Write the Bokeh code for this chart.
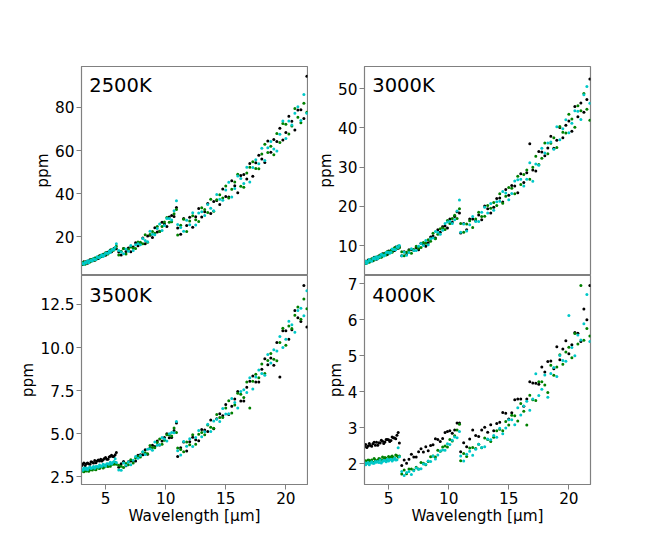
from bokeh.plotting import figure
from bokeh.models import Range1d, FixedTicker, Label, PrintfTickFormatter
from bokeh.layouts import column, row
from bokeh.embed import file_html
from bokeh.resources import INLINE

# ---------------- data ----------------
wl_a = [3.0, 3.1, 3.2, 3.3, 3.4, 3.5, 3.6, 3.7, 3.8, 3.9, 4.0, 4.1, 4.2, 4.3, 4.4,
        4.5, 4.6, 4.7, 4.8, 4.9, 5.0, 5.1, 5.2, 5.3, 5.4, 5.5, 5.6, 5.7, 5.8, 5.9]
wl_b = [6.1, 6.3, 6.5, 6.7, 6.9, 7.1, 7.3, 7.5, 7.7, 7.9, 8.1, 8.3, 8.5, 8.7, 8.9,
        9.1, 9.3, 9.5, 9.7, 9.9, 10.1, 10.3, 10.5, 10.7, 10.9]
wl_c = [11.0, 11.25, 11.5, 11.75, 12.0, 12.25, 12.5, 12.75, 13.0, 13.25, 13.5, 13.75,
        14.0, 14.25, 14.5, 14.75, 15.0, 15.25, 15.5, 15.75, 16.0, 16.25, 16.5, 16.75,
        17.0, 17.25, 17.5, 17.75, 18.0, 18.25, 18.5, 18.75, 19.0, 19.25, 19.5, 19.75,
        20.0, 20.25, 20.5, 20.75, 21.0, 21.25, 21.5, 21.75]
wavelength = wl_a + wl_b + wl_c

panel_names = ["2500K", "3000K", "3500K", "4000K"]

black_2500 = ([7.7, 7.2, 8.5, 7.9, 8.6, 7.8, 8.7, 9.4, 8.8, 9.2, 9.9, 9.2, 10.2, 10.3, 10.0, 11.3, 10.8, 10.9, 12.0, 11.8, 11.5, 12.7, 12.9, 12.8, 13.9, 13.2, 14.1, 14.7, 14.6, 14.5]
              + [13.0, 11.6, 14.7, 13.3, 14.9, 13.1, 15.4, 17.3, 15.9, 17.2, 19.5, 16.8, 20.5, 20.8, 19.7, 24.3, 22.3, 22.7, 26.8, 26.0, 24.8, 29.2, 29.9, 29.5, 33.6]
              + [24.1, 21.2, 28.5, 25.3, 29.1, 24.5, 29.4, 33.2, 29.3, 31.7, 35.5, 30.9, 36.4, 36.9, 35.1, 42.2, 38.7, 38.5, 46.1, 43.7, 40.5, 48.5, 48.9, 46.9, 54.1, 48.1, 54.4, 57.9, 56.1, 54.5, 64.5, 59.3, 65.2, 64.2, 70.4, 64.9, 68.4, 75.9, 73.6, 69.6, 78.8, 79.0, 74.9, 94.5])
green_2500 = ([7.1, 7.9, 8.4, 7.4, 8.3, 8.7, 8.4, 8.4, 9.5, 9.4, 9.2, 10.3, 9.4, 10.4, 10.8, 10.6, 11.5, 10.9, 11.5, 12.1, 12.7, 12.1, 12.1, 13.2, 13.7, 14.1, 13.8, 13.9, 14.9, 15.7]
              + [11.6, 13.4, 14.6, 12.1, 14.2, 15.4, 14.8, 14.7, 17.7, 17.6, 16.9, 21.0, 17.6, 21.1, 22.5, 21.7, 24.8, 22.5, 24.8, 26.9, 29.0, 26.8, 27.0, 30.8, 32.7]
              + [20.9, 25.4, 28.2, 22.5, 27.4, 29.8, 28.0, 27.2, 33.5, 32.7, 31.3, 37.5, 31.9, 37.3, 39.6, 38.0, 43.6, 38.1, 42.1, 45.5, 49.1, 43.5, 43.0, 49.6, 52.3, 54.9, 51.7, 51.6, 58.4, 63.0, 59.1, 62.0, 58.1, 68.0, 63.8, 72.6, 72.2, 67.7, 71.4, 79.5, 75.5, 72.9, 82.0, 77.8])
cyan_2500 = ([8.0, 7.7, 7.4, 8.3, 8.0, 9.0, 8.0, 9.0, 9.2, 8.9, 9.9, 9.6, 9.5, 10.8, 10.5, 10.4, 11.2, 11.8, 11.0, 11.6, 12.5, 12.5, 12.4, 13.5, 12.8, 13.7, 14.3, 14.2, 15.2, 16.8]
             + [13.7, 13.0, 12.2, 14.4, 13.4, 16.0, 13.7, 16.4, 16.9, 16.4, 19.3, 18.4, 17.8, 22.6, 21.2, 21.0, 23.9, 26.0, 23.0, 25.3, 28.5, 28.5, 27.9, 32.2, 36.8]
             + [25.8, 24.4, 22.6, 27.8, 25.6, 31.2, 25.5, 31.1, 31.7, 29.9, 35.1, 33.3, 32.2, 39.7, 37.5, 37.0, 41.8, 45.3, 38.5, 42.4, 48.2, 47.1, 44.8, 52.3, 45.5, 52.2, 55.8, 53.9, 61.1, 55.4, 61.4, 64.2, 60.8, 59.8, 67.6, 73.7, 65.6, 73.7, 71.9, 77.3, 80.4, 74.0, 86.0, 77.3])

black_3000 = ([5.4, 6.0, 5.6, 6.3, 6.3, 6.1, 6.5, 6.1, 7.0, 6.8, 6.5, 6.8, 7.3, 7.3, 7.1, 7.9, 7.5, 8.0, 8.0, 7.7, 8.6, 8.2, 8.6, 9.0, 8.8, 8.7, 9.6, 9.5, 9.3, 9.7]
              + [7.4, 8.4, 7.7, 8.9, 9.0, 8.8, 9.5, 8.9, 10.6, 10.4, 9.8, 10.7, 12.2, 12.4, 11.9, 14.0, 13.4, 14.8, 15.0, 14.5, 16.8, 16.0, 17.4, 18.6, 18.3]
              + [13.2, 15.6, 14.0, 16.8, 16.8, 16.3, 17.8, 16.6, 20.1, 19.4, 18.3, 19.8, 22.0, 22.1, 21.1, 24.3, 22.8, 25.3, 25.2, 23.5, 28.3, 26.1, 28.6, 36.0, 29.3, 29.0, 34.0, 33.9, 32.9, 34.9, 37.9, 34.8, 36.9, 40.1, 37.5, 40.7, 41.8, 39.2, 45.5, 42.9, 46.4, 44.0, 47.3, 52.5])
green_3000 = ([6.0, 5.4, 5.9, 6.1, 5.7, 6.2, 6.6, 6.3, 6.3, 7.0, 6.8, 7.1, 6.9, 7.6, 7.0, 7.4, 7.9, 7.9, 7.6, 8.5, 8.1, 8.5, 8.8, 8.3, 8.9, 9.4, 9.0, 9.3, 9.9, 9.4]
              + [8.4, 7.4, 8.3, 8.7, 8.0, 9.0, 9.8, 9.3, 9.5, 10.8, 10.6, 11.5, 11.1, 13.1, 11.7, 12.9, 14.3, 14.5, 14.1, 16.4, 15.6, 16.9, 17.7, 16.9, 19.4]
              + [15.6, 13.4, 15.5, 16.3, 14.6, 16.8, 18.5, 17.4, 17.5, 20.2, 19.5, 21.0, 20.2, 23.2, 20.8, 22.6, 24.8, 24.6, 23.2, 27.7, 25.6, 28.1, 29.3, 26.9, 30.0, 32.8, 30.7, 32.3, 36.2, 33.4, 36.1, 37.5, 35.0, 40.4, 38.9, 38.7, 43.5, 42.3, 40.2, 45.7, 44.4, 48.8, 44.8, 42.0])
cyan_3000 = ([5.4, 6.0, 5.5, 5.9, 6.4, 6.1, 6.0, 6.6, 6.9, 6.5, 7.1, 6.6, 7.1, 7.1, 7.8, 7.6, 7.3, 7.6, 8.2, 8.3, 8.3, 8.0, 8.3, 9.1, 9.0, 9.0, 8.9, 9.7, 9.5, 10.0]
             + [7.4, 8.3, 7.5, 8.2, 9.2, 8.7, 8.7, 9.8, 10.5, 10.0, 11.3, 10.2, 11.7, 11.9, 13.6, 13.4, 12.9, 13.9, 15.6, 16.0, 16.2, 15.6, 16.6, 18.8, 21.6]
             + [13.4, 15.5, 13.7, 15.3, 17.4, 16.1, 16.1, 18.5, 19.8, 18.3, 20.7, 19.0, 21.2, 21.3, 23.8, 23.4, 21.7, 23.3, 26.5, 26.8, 26.9, 25.2, 26.9, 31.1, 26.4, 30.8, 30.5, 34.8, 33.6, 36.2, 36.4, 34.6, 40.3, 37.0, 39.8, 42.1, 38.8, 41.2, 44.4, 44.3, 42.2, 48.5, 50.6, 46.3])

black_3500 = ([3.15, 3.24, 3.30, 3.16, 3.26, 3.31, 3.26, 3.24, 3.38, 3.35, 3.31, 3.45, 3.32, 3.43, 3.48, 3.43, 3.53, 3.43, 3.50, 3.57, 3.63, 3.53, 3.53, 3.65, 3.70, 3.75, 3.68, 3.68, 3.79, 3.92]
              + [3.06, 3.26, 3.39, 3.15, 3.38, 3.43, 3.41, 3.43, 3.76, 3.78, 3.78, 4.08, 3.82, 4.17, 4.33, 4.26, 4.58, 4.35, 4.58, 4.79, 5.00, 4.77, 4.78, 5.19, 5.62]
              + [3.69, 4.19, 4.52, 4.00, 4.54, 4.80, 4.65, 4.59, 5.25, 5.22, 5.13, 5.80, 5.29, 5.88, 6.16, 6.05, 6.70, 6.12, 6.60, 7.02, 7.45, 6.90, 6.90, 7.70, 8.05, 8.35, 8.00, 8.00, 8.75, 9.35, 9.00, 9.40, 8.97, 10.29, 8.30, 10.98, 10.98, 10.48, 11.04, 12.15, 11.73, 11.51, 13.60, 11.20])
green_3500 = ([2.89, 2.85, 2.80, 2.90, 2.84, 2.95, 2.83, 2.93, 2.93, 2.90, 2.99, 2.95, 2.92, 3.06, 3.01, 2.99, 3.07, 3.12, 3.01, 3.07, 3.16, 3.14, 3.11, 3.23, 3.12, 3.22, 3.27, 3.23, 3.33, 3.24]
              + [3.17, 3.12, 3.05, 3.28, 3.21, 3.49, 3.30, 3.60, 3.68, 3.66, 3.94, 3.90, 3.84, 4.32, 4.20, 4.19, 4.49, 4.70, 4.40, 4.63, 4.95, 4.94, 4.87, 5.33, 5.08]
              + [4.18, 4.09, 3.96, 4.53, 4.36, 4.94, 4.40, 4.98, 5.07, 4.94, 5.51, 5.38, 5.32, 6.12, 5.95, 5.95, 6.50, 6.92, 6.20, 6.67, 7.35, 7.30, 7.10, 8.00, 6.50, 8.05, 8.45, 8.25, 9.05, 8.50, 9.25, 9.65, 9.32, 9.24, 10.29, 11.12, 10.14, 11.25, 11.11, 11.87, 12.36, 11.65, 12.82, 12.25])
cyan_3500 = ([2.95, 2.88, 3.02, 2.95, 3.01, 2.92, 3.01, 3.07, 2.99, 3.03, 3.10, 3.00, 3.11, 3.10, 3.06, 3.19, 3.12, 3.12, 3.23, 3.19, 3.14, 3.27, 3.27, 3.24, 3.35, 3.25, 3.34, 3.39, 3.55, 3.33]
             + [2.90, 2.88, 3.30, 3.17, 3.36, 3.20, 3.47, 3.69, 3.58, 3.74, 3.96, 3.80, 4.11, 4.14, 4.05, 4.52, 4.33, 4.37, 4.78, 4.70, 4.58, 5.01, 5.07, 5.06, 5.72]
             + [4.01, 3.77, 4.55, 4.28, 4.71, 4.27, 4.79, 5.19, 4.83, 5.12, 5.55, 5.14, 5.74, 5.84, 5.71, 6.47, 6.15, 6.17, 7.05, 6.82, 6.50, 7.45, 7.55, 7.40, 8.25, 7.60, 8.30, 8.70, 8.50, 8.40, 9.60, 9.10, 9.88, 9.80, 10.64, 10.00, 10.49, 11.53, 11.32, 10.89, 12.15, 12.28, 11.84, 13.30])

black_4000 = ([2.48, 2.54, 2.46, 2.50, 2.57, 2.51, 2.49, 2.56, 2.60, 2.52, 2.60, 2.52, 2.59, 2.58, 2.66, 2.63, 2.57, 2.61, 2.68, 2.68, 2.67, 2.62, 2.65, 2.75, 2.73, 2.72, 2.70, 2.80, 2.87, 2.58]
              + [1.96, 2.11, 2.02, 2.13, 2.27, 2.19, 2.19, 2.34, 2.42, 2.33, 2.48, 2.37, 2.51, 2.53, 2.70, 2.68, 2.62, 2.71, 2.87, 2.90, 2.92, 2.85, 2.94, 3.14, 3.14]
              + [2.34, 2.59, 2.48, 2.69, 2.94, 2.79, 2.76, 2.94, 3.02, 2.88, 3.09, 2.92, 3.12, 3.16, 3.43, 3.41, 3.25, 3.42, 3.78, 3.80, 3.80, 3.60, 3.80, 4.28, 4.25, 4.24, 4.21, 4.69, 4.55, 4.84, 4.86, 4.64, 5.25, 4.89, 5.19, 5.42, 5.06, 5.31, 5.65, 5.63, 5.40, 6.30, 6.00, 6.95])
green_4000 = ([2.03, 2.09, 2.03, 2.11, 2.10, 2.07, 2.11, 2.05, 2.15, 2.11, 2.07, 2.10, 2.15, 2.14, 2.10, 2.19, 2.13, 2.18, 2.16, 2.11, 2.21, 2.15, 2.19, 2.22, 2.18, 2.16, 2.25, 2.23, 2.19, 2.22]
              + [1.72, 1.83, 1.73, 1.86, 1.86, 1.83, 1.91, 1.86, 2.04, 2.02, 1.98, 2.07, 2.20, 2.22, 2.19, 2.38, 2.35, 2.47, 2.50, 2.47, 2.68, 2.64, 2.78, 2.94, 3.10]
              + [2.09, 2.29, 2.21, 2.44, 2.46, 2.43, 2.55, 2.45, 2.72, 2.68, 2.62, 2.74, 2.92, 2.96, 2.92, 3.18, 3.08, 3.35, 3.34, 3.19, 3.68, 3.46, 3.08, 3.91, 3.78, 3.76, 4.28, 4.28, 4.19, 3.98, 4.74, 4.46, 4.69, 5.03, 4.77, 5.11, 5.24, 4.95, 5.62, 5.33, 6.95, 5.43, 5.76, 5.55])
cyan_4000 = ([2.04, 1.98, 2.02, 2.04, 1.98, 2.03, 2.06, 2.02, 2.02, 2.07, 2.05, 2.07, 2.04, 2.11, 2.03, 2.07, 2.10, 2.09, 2.06, 2.13, 2.08, 2.12, 2.13, 2.08, 2.12, 2.16, 2.11, 2.12, 2.45, 2.20]
             + [1.79, 1.68, 1.76, 1.79, 1.71, 1.81, 1.89, 1.85, 1.87, 2.00, 1.99, 2.08, 2.07, 2.22, 2.14, 2.25, 2.36, 2.39, 2.38, 2.56, 2.54, 2.66, 2.75, 2.73, 2.90]
             + [2.22, 2.08, 2.27, 2.35, 2.24, 2.41, 2.55, 2.46, 2.48, 2.69, 2.67, 2.79, 2.74, 2.99, 2.84, 3.00, 3.23, 3.23, 3.09, 3.56, 3.36, 3.61, 3.74, 3.49, 3.80, 4.50, 3.90, 4.07, 4.47, 3.85, 4.51, 4.68, 4.43, 5.01, 4.87, 4.85, 6.12, 5.23, 5.00, 5.58, 5.44, 5.89, 6.70, 5.40])

x_ticks = [5, 10, 15, 20]
y_ticks_2500 = [20, 40, 60, 80]
y_ticks_3000 = [10, 20, 30, 40, 50]
y_ticks_3500 = [2.5, 5.0, 7.5, 10.0, 12.5]
y_ticks_4000 = [2, 3, 4, 5, 6, 7]

# ---------------- styling ----------------
FONT = "DejaVu Sans"
SPINE = "#808080"
C_BLACK = "#000000"
C_GREEN = "#008000"
C_CYAN = "#00c8c8"
X_RANGE = (3.0, 21.8)


def make_panel(name, series, yr, yticks, yfmt, bottom_row, left_col):
    if left_col:
        bl, br, w = 81, 1, 308
    else:
        bl, br, w = 56, 20, 302
    if bottom_row:
        bt, bb, h = 0, 60, 269
    else:
        bt, bb, h = 66, 1, 275
    p = figure(width=w, height=h, x_range=Range1d(*X_RANGE), y_range=Range1d(*yr),
               output_backend="svg", toolbar_location=None, title=None,
               min_border_left=bl, min_border_right=br,
               min_border_top=bt, min_border_bottom=bb)
    p.xgrid.visible = False
    p.ygrid.visible = False
    p.outline_line_color = SPINE
    p.outline_line_width = 1.2
    p.background_fill_color = "white"
    p.border_fill_color = "white"

    for ys, col in series:
        p.scatter(wavelength, ys, marker="circle", size=3.0, fill_color=col,
                  line_color=None)

    ya = p.yaxis[0]
    ya.ticker = FixedTicker(ticks=yticks)
    if yfmt:
        ya.formatter = PrintfTickFormatter(format=yfmt)
    ya.axis_label = "ppm"
    ya.axis_label_text_font = FONT
    ya.axis_label_text_font_size = "15.3px"
    ya.axis_label_text_font_style = "normal"
    ya.axis_label_text_color = "black"
    ya.axis_label_standoff = 0
    ya.major_label_text_font = FONT
    ya.major_label_text_font_size = "15.3px"
    ya.major_label_text_color = "black"
    ya.major_label_standoff = 2
    ya.major_tick_out = 5
    ya.major_tick_in = 0
    ya.major_tick_line_color = SPINE
    ya.minor_tick_line_color = None
    ya.axis_line_color = SPINE

    xa = p.xaxis[0]
    if bottom_row:
        xa.ticker = FixedTicker(ticks=x_ticks)
        xa.axis_label = "Wavelength [µm]"
        xa.axis_label_text_font = FONT
        xa.axis_label_text_font_size = "15.3px"
        xa.axis_label_text_font_style = "normal"
        xa.axis_label_text_color = "black"
        xa.axis_label_standoff = 0
        xa.major_label_text_font = FONT
        xa.major_label_text_font_size = "15.3px"
        xa.major_label_text_color = "black"
        xa.major_label_standoff = 2
        xa.major_tick_out = 5
        xa.major_tick_in = 0
        xa.major_tick_line_color = SPINE
        xa.minor_tick_line_color = None
        xa.axis_line_color = SPINE
    else:
        xa.visible = False

    lx = X_RANGE[0] + (X_RANGE[1] - X_RANGE[0]) * 7.8 / 225.7
    ly = yr[1] - (yr[1] - yr[0]) * 19.5 / 208.5
    p.add_layout(Label(x=lx, y=ly, text=name, text_font=FONT,
                       text_font_size="19.5px", text_color="black",
                       text_baseline="alphabetic", text_align="left"))
    return p


p1 = make_panel(panel_names[0], [(black_2500, C_BLACK), (green_2500, C_GREEN), (cyan_2500, C_CYAN)],
                (2.6, 99.0), y_ticks_2500, None, False, True)
p2 = make_panel(panel_names[1], [(black_3000, C_BLACK), (green_3000, C_GREEN), (cyan_3000, C_CYAN)],
                (2.6, 55.7), y_ticks_3000, None, False, False)
p3 = make_panel(panel_names[2], [(black_3500, C_BLACK), (green_3500, C_GREEN), (cyan_3500, C_CYAN)],
                (2.06, 14.18), y_ticks_3500, "%.1f", True, True)
p4 = make_panel(panel_names[3], [(black_4000, C_BLACK), (green_4000, C_GREEN), (cyan_4000, C_CYAN)],
                (1.43, 7.23), y_ticks_4000, None, True, False)

layout = column(row(p1, p2), row(p3, p4))
open("out.html", "w").write(file_html(layout, INLINE))
